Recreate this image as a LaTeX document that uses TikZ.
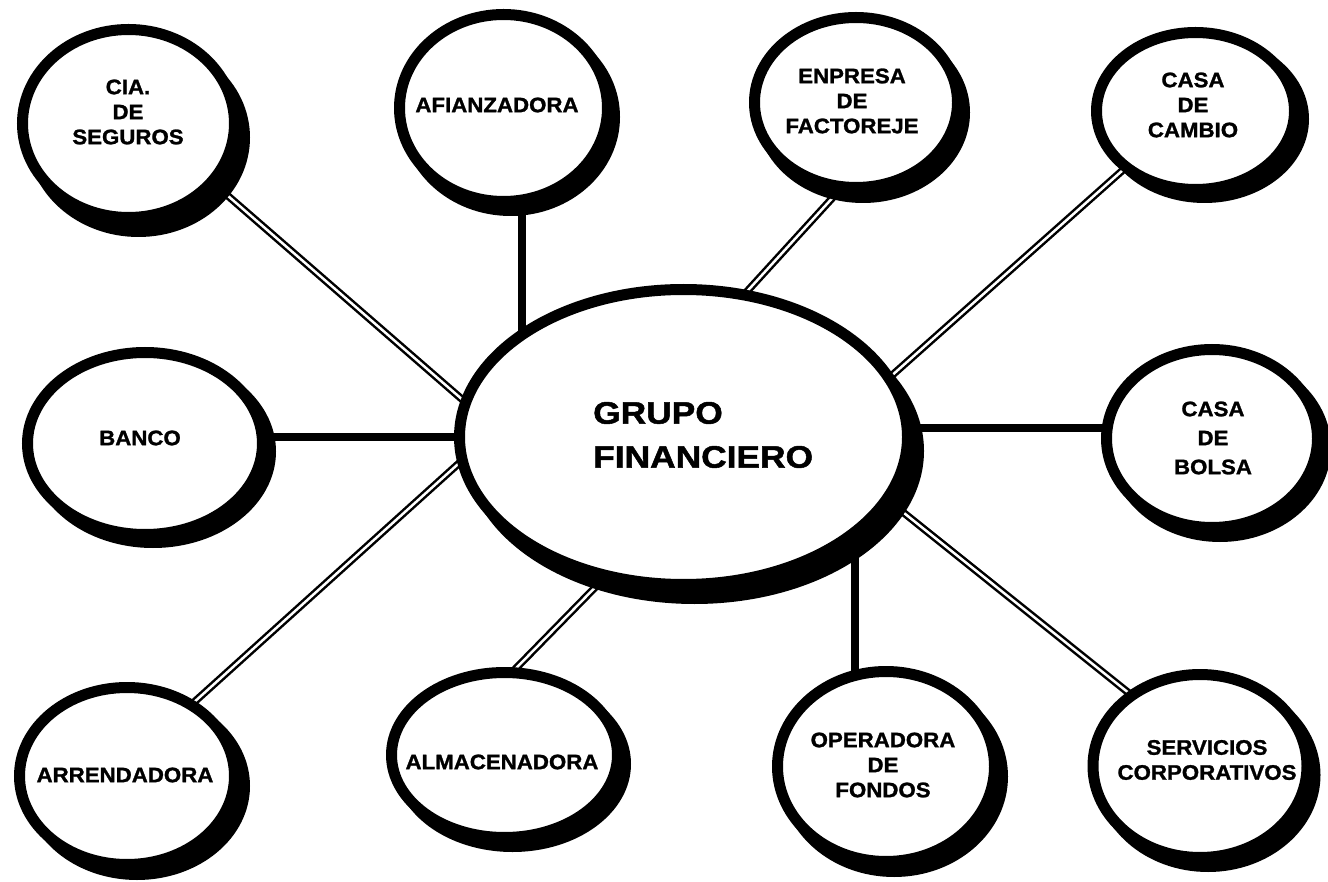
\documentclass[tikz,border=0pt]{standalone}
\usepackage{fontspec}
\setmainfont{Liberation Sans}
\newfontfamily\lblfont[FakeStretch=1.06,FakeBold=1.3]{Liberation Sans Bold}
\newfontfamily\bigfont[FakeStretch=1.14,FakeBold=1.6]{Liberation Sans Bold}
\usetikzlibrary{shapes.geometric}
\pgfdeclarelayer{bgl}
\pgfdeclarelayer{connl}
\pgfdeclarelayer{shadl}
\pgfsetlayers{bgl,connl,shadl,main}
\tikzset{
  bub/.style={ellipse, draw=black, line width=11pt, fill=white, inner sep=0pt, outer sep=0pt},
  lbl/.style={font=\lblfont\fontsize{21}{25}\selectfont, align=center, inner sep=0pt},
  lblwide/.style={font=\lblfont\fontsize{21}{29}\selectfont, align=center, inner sep=0pt},
  biglbl/.style={font=\bigfont\fontsize{31}{44}\selectfont, align=left, inner sep=0pt, anchor=west},
  dbl/.style={line width=2.5pt, double=white, double distance=2.5pt},
  sld/.style={line width=8pt},
}
\newcommand\mybub[7]{%
  \begin{pgfonlayer}{shadl}
    \fill[black] (#2+#6,#3+#7) ellipse [x radius={#4pt+5.5pt}, y radius={#5pt+5.5pt}];
  \end{pgfonlayer}
  \node[bub, minimum width={2*#4pt}, minimum height={2*#5pt}] (#1) at (#2,#3) {};
}
\begin{document}
\begin{tikzpicture}[x=1pt,y=-1pt]
\useasboundingbox (0,0) rectangle (1328,882);
\begin{pgfonlayer}{bgl}
  \fill[white] (0,0) rectangle (1328,882);
\end{pgfonlayer}
% bubbles: name, cx, cy, rx, ry, shadow dx, shadow dy
\mybub{cia}{128.5}{123.5}{106}{94}{10}{14}
\mybub{afz}{503.5}{108}{104}{93.5}{7}{9}
\mybub{enp}{856}{102.5}{101.5}{85}{7}{10}
\mybub{cam}{1195.5}{111}{99}{78.5}{9}{8}
\mybub{ban}{145}{443.5}{117.5}{91}{8}{8}
\mybub{bol}{1212}{438.5}{105.5}{89}{8}{9}
\mybub{arr}{127}{776}{107.5}{88.5}{10}{10}
\mybub{alm}{504.5}{755}{113}{82.5}{8}{9}
\mybub{ope}{886}{766.5}{108.5}{95}{8}{10}
\mybub{ser}{1200}{766}{107}{91.5}{8}{9}
\mybub{gru}{683.5}{437}{224}{147.5}{11}{14}
% labels
\node[lbl] (cia-t) at (128,112) {CIA.\\DE\\SEGUROS};
\node[lbl] (afz-t) at (497,105) {AFIANZADORA};
\node[lbl] (enp-t) at (852,101) {ENPRESA\\DE\\FACTOREJE};
\node[lbl] (cam-t) at (1193,105) {CASA\\DE\\CAMBIO};
\node[lbl] (ban-t) at (140,438) {BANCO};
\node[lblwide] (bol-t) at (1213,438) {CASA\\DE\\BOLSA};
\node[lbl] (arr-t) at (125,775) {ARRENDADORA};
\node[lbl] (alm-t) at (502,762) {ALMACENADORA};
\node[lbl] (ope-t) at (883,765) {OPERADORA\\DE\\FONDOS};
\node[lbl] (ser-t) at (1207,760) {SERVICIOS\\CORPORATIVOS};
\node[biglbl] (gru-t) at (593,435) {GRUPO\\FINANCIERO};
% connectors
\begin{pgfonlayer}{connl}
  \draw[dbl] (cia.-35) -- (gru.171);
  \draw[sld] ([xshift=18.5pt]afz.center) -- ([xshift=18.5pt]afz.center |- gru.center);
  \draw[dbl] (enp.-99) -- (gru.67.5);
  \draw[dbl] (cam.-141) -- (gru.16);
  \draw[sld] (ban.center |- gru.center) -- (gru.center);
  \draw[sld] ([yshift=9pt]gru.center) -- ([yshift=9pt]gru.center -| bol.center);
  \draw[dbl] (arr.48) -- (gru.-174);
  \draw[dbl] (alm.85) -- (gru.-119);
  \draw[sld] ([xshift=-31pt]ope.center) -- ([xshift=-31pt]ope.center |- gru.center);
  \draw[dbl] (ser.134) -- (gru.-17);
\end{pgfonlayer}
\end{tikzpicture}
\end{document}
